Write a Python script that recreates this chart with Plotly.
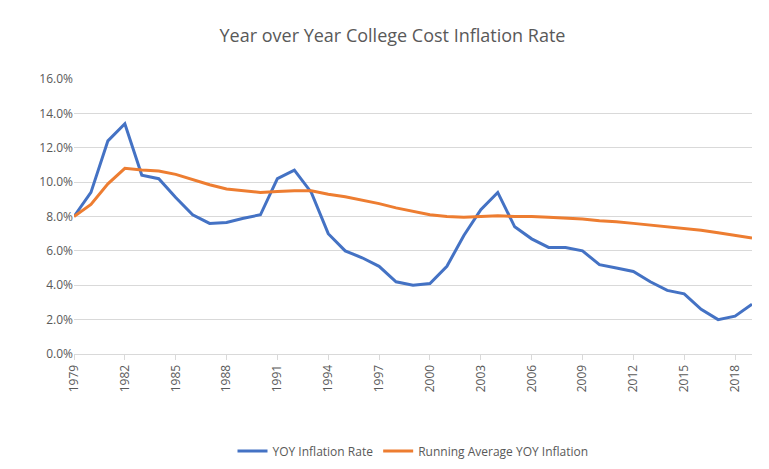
import plotly.graph_objects as go

years = list(range(1979, 2020))
yoy = [8.0, 9.4, 12.4, 13.4, 10.4, 10.2, 9.1, 8.1, 7.6, 7.65, 7.9, 8.1, 10.2, 10.7, 9.4, 7.0, 6.0, 5.6, 5.1, 4.2, 4.0, 4.1, 5.1, 6.9, 8.4, 9.4, 7.4, 6.7, 6.2, 6.2, 6.0, 5.2, 5.0, 4.8, 4.2, 3.7, 3.5, 2.6, 2.0, 2.2, 2.9]
running = [8.0, 8.7, 9.9, 10.8, 10.7, 10.65, 10.45, 10.15, 9.85, 9.6, 9.5, 9.4, 9.45, 9.5, 9.5, 9.3, 9.15, 8.95, 8.75, 8.5, 8.3, 8.1, 8.0, 7.95, 8.0, 8.05, 8.0, 8.0, 7.95, 7.9, 7.85, 7.75, 7.7, 7.6, 7.5, 7.4, 7.3, 7.2, 7.05, 6.9, 6.75]
yoy_f = [v / 100 for v in yoy]
run_f = [v / 100 for v in running]

fig = go.Figure()
fig.add_trace(go.Scatter(x=years, y=yoy_f, mode="lines", name="YOY Inflation Rate",
                         line=dict(color="#4472C4", width=3)))
fig.add_trace(go.Scatter(x=years, y=run_f, mode="lines", name="Running Average YOY Inflation",
                         line=dict(color="#ED7D31", width=3)))
fig.update_layout(
    width=769, height=469, paper_bgcolor="white", plot_bgcolor="white",
    font=dict(family="Open Sans, Liberation Sans, sans-serif", color="#595959", size=12),
    title=dict(text="Year over Year College Cost Inflation Rate", x=0.5, xanchor="center",
               y=0.955, font=dict(size=18, color="#595959")),
    margin=dict(l=66, r=25, t=71, b=114),
    legend=dict(orientation="h", x=0.5, xanchor="center", y=-0.3, yanchor="top",
                font=dict(size=12, color="#595959")),
    xaxis=dict(range=[1979, 2019], tickmode="array", tickvals=list(range(1979, 2020, 3)),
               ticktext=[str(y) for y in range(1979, 2020, 3)], tickangle=-90,
               showgrid=False, showline=True, linecolor="#D9D9D9", ticks="outside",
               tickcolor="#D9D9D9", ticklen=5, tickfont=dict(size=12)),
    yaxis=dict(range=[0, 0.16], dtick=0.02, tickformat=".1%", gridcolor="#D9D9D9",
               zeroline=False, showline=False, tickfont=dict(size=12)),
)
fig.write_html("out.html")
